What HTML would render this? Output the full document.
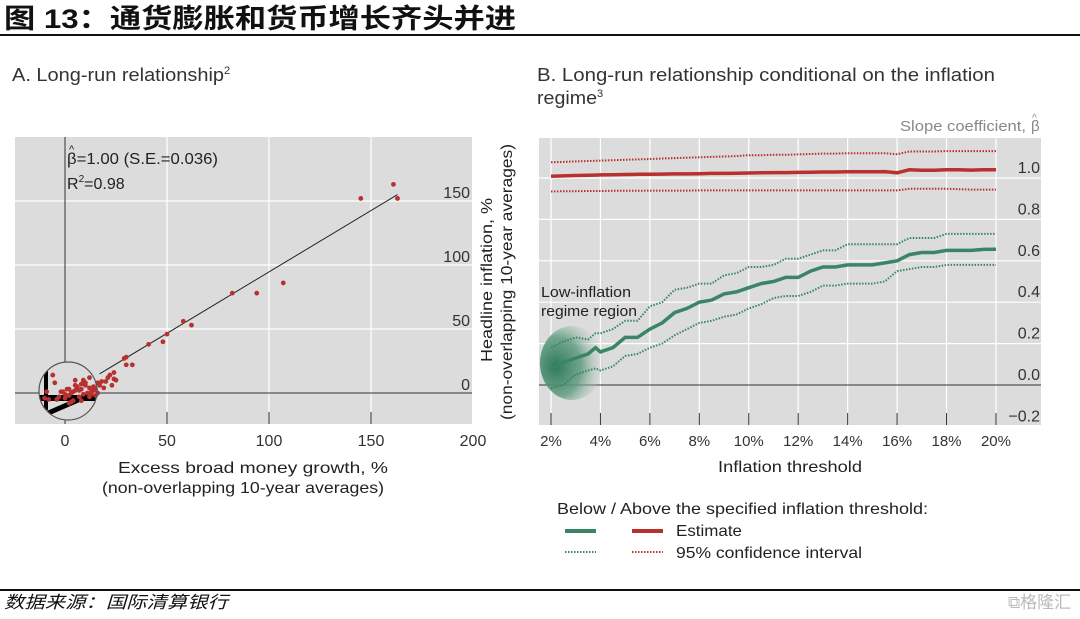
<!DOCTYPE html>
<html><head><meta charset="utf-8"><style>
body{margin:0;background:#fff;width:1080px;height:614px;overflow:hidden;font-family:"Liberation Sans","Noto Sans CJK SC",sans-serif}
svg text{font-family:"Liberation Sans","Noto Sans CJK SC",sans-serif}
</style></head><body>
<svg id="s" width="1080" height="614" viewBox="0 0 1080 614">
<text x="4" y="28" font-size="27" font-weight="bold" fill="#111" textLength="512" lengthAdjust="spacingAndGlyphs">图  13：通货膨胀和货币增长齐头并进</text>
<line x1="0" y1="35" x2="1080" y2="35" stroke="#111" stroke-width="2"/>
<text x="12" y="81" font-size="18" fill="#333"><tspan textLength="212" lengthAdjust="spacingAndGlyphs">A. Long-run relationship</tspan><tspan font-size="11" dy="-7">2</tspan></text>
<text x="537" y="81" font-size="18" fill="#333" textLength="458" lengthAdjust="spacingAndGlyphs">B. Long-run relationship conditional on the inflation</text>
<text x="537" y="104" font-size="18" fill="#333"><tspan textLength="60" lengthAdjust="spacingAndGlyphs">regime</tspan><tspan font-size="11" dy="-7">3</tspan></text>
<g id="A"></g>
<g id="B"></g>
<text x="557" y="514" font-size="16" fill="#222" textLength="371" lengthAdjust="spacingAndGlyphs">Below / Above the specified inflation threshold:</text>
<line x1="565" y1="531" x2="596" y2="531" stroke="#3a8565" stroke-width="4"/>
<line x1="632" y1="531" x2="663" y2="531" stroke="#b8312f" stroke-width="4"/>
<text x="676" y="536" font-size="16" fill="#222" textLength="66" lengthAdjust="spacingAndGlyphs">Estimate</text>
<line x1="565" y1="552" x2="596" y2="552" stroke="#3a8565" stroke-width="2" stroke-dasharray="1.5 1.5"/>
<line x1="632" y1="552" x2="663" y2="552" stroke="#b8312f" stroke-width="2" stroke-dasharray="1.5 1.5"/>
<text x="676" y="558" font-size="16" fill="#222" textLength="186" lengthAdjust="spacingAndGlyphs">95% confidence interval</text>
<line x1="0" y1="590" x2="1080" y2="590" stroke="#111" stroke-width="2"/>
<text x="4" y="608" font-size="17" font-style="italic" fill="#111" textLength="224" lengthAdjust="spacingAndGlyphs">数据来源：国际清算银行</text>
<text x="1008" y="608" font-size="17" fill="#bbb">⧉格隆汇</text>
</svg>
<script>
// Panel A data
const scatterX=[145,161,163,107,94,82,62,58,50,48,41,33,30,30,29,24,24,22,20,18,17,25,23,19,21,16,15,14,13,12,10,9,8,7,6,5,4,3,2,1,0,-1,-3,-5,-8,-10,12,10,8,6,4,2,0,-2,-4,11,14,9,7,5,3,1,15,13,5,-6,-9,2,8,12,16,-4];
const scatterY=[152,163,152,86,78,78,53,56,46,40,38,22,22,28,27,16,11,14,9,9,6,10,6,4,12,8,3,5,2,4,6,10,3,2,5,2,1,0,3,-2,-1,1,-3,8,-5,-4,12,8,7,4,-6,-2,-4,1,-5,0,2,-1,-3,6,-7,3,-2,-1,10,14,1,-8,-6,-3,0,-5];
const xTicksA=[0,50,100,150,200];
const yTicksA=[0,50,100,150];
// Panel B data
const thresholds=[2,2.5,3,3.5,3.8,4,4.5,5,5.5,6,6.5,7,7.5,8,8.5,9,9.5,10,10.5,11,11.5,12,12.5,13,13.5,14,14.5,15,15.5,16,16.5,17,17.5,18,18.5,19,19.5,20];
const greenEst=[0.076,0.11,0.13,0.15,0.18,0.16,0.18,0.23,0.23,0.27,0.30,0.35,0.37,0.40,0.41,0.44,0.45,0.47,0.49,0.50,0.52,0.52,0.55,0.57,0.57,0.58,0.58,0.58,0.59,0.60,0.63,0.64,0.64,0.65,0.65,0.65,0.655,0.656];
const greenUp=[0.18,0.21,0.23,0.22,0.25,0.25,0.27,0.31,0.31,0.38,0.40,0.46,0.47,0.49,0.49,0.53,0.54,0.57,0.57,0.58,0.61,0.61,0.63,0.65,0.65,0.68,0.68,0.68,0.68,0.68,0.71,0.71,0.71,0.73,0.73,0.73,0.73,0.73];
const greenLo=[-0.016,0.0,0.05,0.07,0.08,0.07,0.09,0.14,0.15,0.18,0.20,0.24,0.27,0.30,0.31,0.33,0.34,0.37,0.39,0.42,0.43,0.43,0.45,0.48,0.48,0.49,0.49,0.49,0.50,0.55,0.56,0.57,0.57,0.58,0.58,0.58,0.58,0.58];
const redEst=[1.008,1.01,1.012,1.013,1.014,1.015,1.016,1.017,1.018,1.018,1.019,1.02,1.02,1.021,1.022,1.022,1.023,1.024,1.025,1.026,1.026,1.027,1.028,1.029,1.029,1.03,1.03,1.03,1.031,1.025,1.04,1.037,1.037,1.04,1.04,1.038,1.04,1.04];
const redUp=[1.076,1.078,1.08,1.082,1.083,1.084,1.086,1.088,1.09,1.092,1.094,1.096,1.098,1.1,1.102,1.104,1.106,1.11,1.11,1.112,1.112,1.114,1.116,1.118,1.118,1.12,1.12,1.12,1.12,1.115,1.128,1.128,1.128,1.13,1.13,1.13,1.13,1.13];
const redLo=[0.935,0.936,0.936,0.937,0.937,0.937,0.938,0.938,0.938,0.939,0.939,0.939,0.939,0.94,0.94,0.94,0.94,0.94,0.94,0.94,0.94,0.94,0.94,0.94,0.94,0.94,0.94,0.94,0.94,0.94,0.948,0.948,0.948,0.948,0.946,0.944,0.944,0.944];
const xTicksB=[2,4,6,8,10,12,14,16,18,20];
const yTicksB=[-0.2,0,0.2,0.4,0.6,0.8,1.0];

const NS='http://www.w3.org/2000/svg';
function mk(p,t,a){const e=document.createElementNS(NS,t);for(const k in a)e.setAttribute(k,a[k]);p.appendChild(e);return e;}
// ---- Panel A
const A=document.getElementById('A');
const xA=v=>65+v*2.04, yA=v=>393-v*1.28;
let r=mk(A,'rect',{x:15,y:137,width:457,height:287,fill:'#dcdcdc'});


[50,100,150].forEach(v=>{let g=mk(A,'line',{x1:xA(v),x2:xA(v),y1:137,y2:424,stroke:'#fff','stroke-width':1.2});


let h=mk(A,'line',{x1:15,x2:472,y1:yA(v),y2:yA(v),stroke:'#fff','stroke-width':1.2});

});
let ax=mk(A,'line',{x1:xA(0),x2:xA(0),y1:137,y2:424,stroke:'#333','stroke-width':1});


let ay=mk(A,'line',{x1:15,x2:472,y1:yA(0),y2:yA(0),stroke:'#333','stroke-width':1});


xTicksA.forEach(v=>{if(v>0&&v<200){let t=mk(A,'line',{x1:xA(v),x2:xA(v),y1:412,y2:424,stroke:'#333'});

}
let l=mk(A,'text',{x:xA(v),y:446,'font-size':16,'text-anchor':'middle',fill:'#333'});l.textContent=v;

});
yTicksA.forEach(v=>{let l=mk(A,'text',{x:470,y:yA(v)-3,'font-size':16,'text-anchor':'end',fill:'#333'});l.textContent=v;

});
let fit=mk(A,'line',{x1:xA(17),y1:yA(15),x2:xA(163),y2:yA(155),stroke:'#222','stroke-width':1});


mk(A,'defs',{}).innerHTML='<clipPath id="cc"><circle cx="68" cy="391" r="29"/></clipPath><radialGradient id="gg" cx="0.25" cy="0.55" r="0.8"><stop offset="0" stop-color="#2f7a5a"/><stop offset="0.5" stop-color="#5f9c80" stop-opacity="0.85"/><stop offset="1" stop-color="#dcdcdc" stop-opacity="0"/></radialGradient>';
const mg=mk(A,'g',{'clip-path':'url(#cc)'});


mk(mg,'rect',{x:38,y:362,width:60,height:60,fill:'#dcdcdc'});
mk(mg,'line',{x1:46,y1:365,x2:46,y2:410,stroke:'#000','stroke-width':4});
mk(mg,'line',{x1:38,y1:398,x2:98,y2:398,stroke:'#000','stroke-width':6});
mk(mg,'line',{x1:46,y1:414,x2:92,y2:394,stroke:'#000','stroke-width':5});
scatterX.forEach((x,i)=>{let c=mk(A,'circle',{cx:xA(x),cy:yA(scatterY[i]),r:2.4,fill:'#b8312f'});

});
let cir=mk(A,'circle',{cx:68,cy:391,r:29,fill:'none',stroke:'#555','stroke-width':1.2});


let hat=mk(A,'text',{x:69,y:153,'font-size':11,fill:'#222'});hat.textContent='^';


let t1=mk(A,'text',{x:67,y:164,'font-size':16,fill:'#222',textLength:151,lengthAdjust:'spacingAndGlyphs'});t1.textContent='β=1.00 (S.E.=0.036)';


let t2=mk(A,'text',{x:67,y:189,'font-size':16,fill:'#222'});t2.innerHTML='R<tspan font-size="10" dy="-7">2</tspan><tspan dy="7">=0.98</tspan>';


let xt=mk(A,'text',{x:118,y:473,'font-size':16,fill:'#222',textLength:270,lengthAdjust:'spacingAndGlyphs'});xt.textContent='Excess broad money growth, %';


let xt2=mk(A,'text',{x:102,y:493,'font-size':16,fill:'#222',textLength:282,lengthAdjust:'spacingAndGlyphs'});xt2.textContent='(non-overlapping 10-year averages)';


let yt=mk(A,'text',{x:0,y:0,'font-size':16,fill:'#222',textLength:164,lengthAdjust:'spacingAndGlyphs',transform:'translate(492,362) rotate(-90)'});yt.textContent='Headline inflation, %';


let yt2=mk(A,'text',{x:0,y:0,'font-size':16,fill:'#222',textLength:276,lengthAdjust:'spacingAndGlyphs',transform:'translate(512,420) rotate(-90)'});yt2.textContent='(non-overlapping 10-year averages)';


// ---- Panel B
const B=document.getElementById('B');
const xB=v=>551+(v-2)*24.72, yB=v=>385-v*207;
let rb=mk(B,'rect',{x:539,y:138,width:502,height:287,fill:'#dcdcdc'});


xTicksB.forEach(v=>{let g=mk(B,'line',{x1:xB(v),x2:xB(v),y1:138,y2:425,stroke:'#fff','stroke-width':1.2});


let t=mk(B,'line',{x1:xB(v),x2:xB(v),y1:413,y2:425,stroke:'#333'});


let l=mk(B,'text',{x:xB(v),y:446,'font-size':15,'text-anchor':'middle',fill:'#333'});l.textContent=v+'%';

});
yTicksB.forEach(v=>{if(v>0){let g=mk(B,'line',{x1:539,x2:1041,y1:yB(v),y2:yB(v),stroke:'#fff','stroke-width':1.2});

}
let l=mk(B,'text',{x:1040,y:yB(v)-5,'font-size':16,'text-anchor':'end',fill:'#333'});l.textContent=(v<0?'−':'')+Math.abs(v).toFixed(1);

});
let z=mk(B,'line',{x1:539,x2:1041,y1:yB(0),y2:yB(0),stroke:'#333','stroke-width':1});


let el=mk(B,'ellipse',{cx:572,cy:363,rx:32,ry:37,fill:'url(#gg)'});


function pts(arr){return thresholds.map((t,i)=>xB(t).toFixed(1)+','+yB(arr[i]).toFixed(1)).join(' ');}
[[redUp,'#b8312f',2,'red-ci-upper'],[redLo,'#b8312f',2,'red-ci-lower'],[greenUp,'#3a8565',2,'green-ci-upper'],[greenLo,'#3a8565',2,'green-ci-lower']].forEach(s=>{
let p=mk(B,'polyline',{points:pts(s[0]),fill:'none',stroke:s[1],'stroke-width':s[2],'stroke-dasharray':'1.5 1.5'});

});
let pr=mk(B,'polyline',{points:pts(redEst),fill:'none',stroke:'#b8312f','stroke-width':3.5});


let pg=mk(B,'polyline',{points:pts(greenEst),fill:'none',stroke:'#3a8565','stroke-width':3.5});


let la=mk(B,'text',{x:541,y:297,'font-size':15,fill:'#222',textLength:90,lengthAdjust:'spacingAndGlyphs'});la.textContent='Low-inflation';


let lb=mk(B,'text',{x:541,y:316,'font-size':15,fill:'#222',textLength:96,lengthAdjust:'spacingAndGlyphs'});lb.textContent='regime region';


let sc=mk(B,'text',{x:900,y:131,'font-size':15,fill:'#888',textLength:126,lengthAdjust:'spacingAndGlyphs'});sc.textContent='Slope coefficient,';


let sb=mk(B,'text',{x:1031,y:131,'font-size':15,fill:'#888'});sb.textContent='β';


let sh=mk(B,'text',{x:1032,y:121,'font-size':10,fill:'#888'});sh.textContent='^';


let xb=mk(B,'text',{x:718,y:472,'font-size':16,fill:'#222',textLength:144,lengthAdjust:'spacingAndGlyphs'});xb.textContent='Inflation threshold';


</script>
</body></html>
